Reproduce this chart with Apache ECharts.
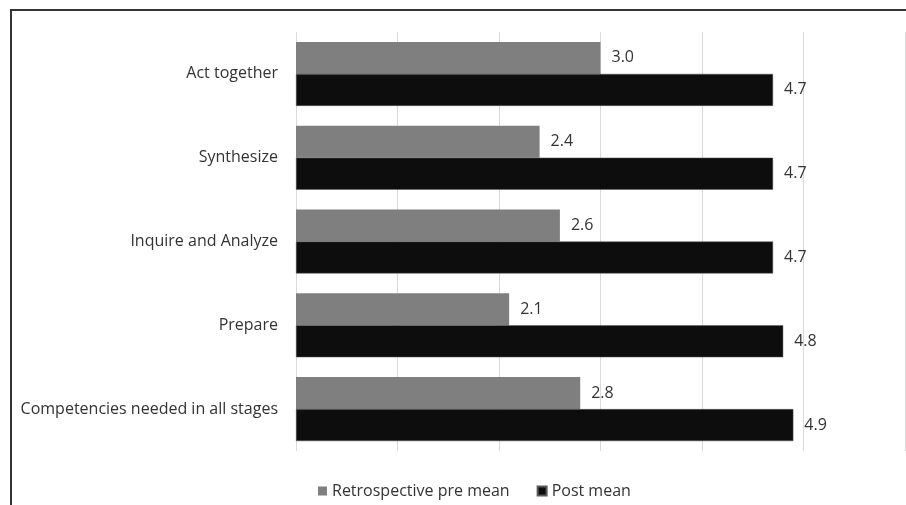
<!DOCTYPE html>
<html>
<head>
<meta charset="utf-8">
<script src="https://cdn.jsdelivr.net/npm/echarts@6/dist/echarts.min.js"></script>
<style>
  html, body { margin: 0; padding: 0; background: #ffffff; }
  #chart { width: 906px; height: 505px; }
</style>
</head>
<body>
<div id="chart"></div>
<script>
// Competency categories, top to bottom
const categories = [
  'Act together',
  'Synthesize',
  'Inquire and Analyze',
  'Prepare',
  'Competencies needed in all stages'
];
// Mean ratings per category
const preMean = [3.0, 2.4, 2.6, 2.1, 2.8];
const postMean = [4.7, 4.7, 4.7, 4.8, 4.9];
const seriesNames = ['Retrospective pre mean', 'Post mean'];

const FONT = '"Open Sans", "Liberation Sans", sans-serif';
const TEXT = '#333333';
const SIZE = 16;

const chart = echarts.init(document.getElementById('chart'), null, { renderer: 'canvas' });

const valueLabel = {
  show: true,
  position: 'right',
  distance: 11,
  color: TEXT,
  fontFamily: FONT,
  fontSize: SIZE,
  formatter: p => p.value.toFixed(1)
};

chart.setOption({
  animation: false,
  backgroundColor: '#ffffff',
  grid: { left: 296, right: 1, top: 32, bottom: 54, containLabel: false },
  xAxis: {
    type: 'value',
    min: 0,
    max: 6,
    interval: 1,
    axisLine: { show: false },
    axisTick: { show: false },
    axisLabel: { show: false },
    splitLine: { show: true, lineStyle: { color: '#d9d9d9', width: 1 } }
  },
  yAxis: {
    type: 'category',
    data: categories,
    inverse: true,
    axisLine: { show: false },
    axisTick: { show: false },
    axisLabel: { margin: 18, color: TEXT, fontFamily: FONT, fontSize: SIZE }
  },
  legend: {
    data: seriesNames,
    left: 313,
    bottom: 1,
    itemWidth: 9,
    itemHeight: 9,
    itemGap: 27,
    icon: 'rect',
    textStyle: { color: TEXT, fontFamily: FONT, fontSize: SIZE }
  },
  series: [
    {
      name: seriesNames[0],
      type: 'bar',
      data: preMean,
      barWidth: 32,
      barGap: '0%',
      itemStyle: { color: '#7f7f7f' },
      label: valueLabel
    },
    {
      name: seriesNames[1],
      type: 'bar',
      data: postMean,
      barWidth: 32,
      barGap: '0%',
      itemStyle: { color: '#0d0d0d', borderColor: '#595959', borderWidth: 0.5 },
      label: valueLabel
    }
  ],
  graphic: [
    {
      type: 'rect',
      silent: true,
      shape: { x: 11, y: 10, width: 1200, height: 1200 },
      style: { fill: 'none', stroke: '#333333', lineWidth: 2 }
    }
  ]
});
</script>
</body>
</html>
